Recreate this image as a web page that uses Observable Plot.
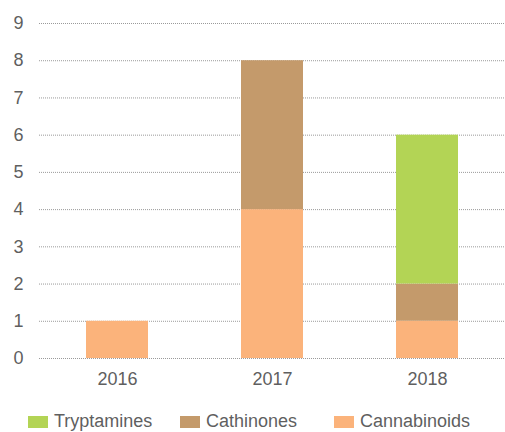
<!DOCTYPE html>
<html>
<head>
<meta charset="utf-8">
<script src="https://cdn.jsdelivr.net/npm/d3@7"></script>
<script src="https://cdn.jsdelivr.net/npm/@observablehq/plot@0.6"></script>
<style>
  body { margin: 0; background: #fff; font-family: "Liberation Sans", Arial, sans-serif; }
  #wrap { position: relative; width: 505px; height: 432px; overflow: hidden; }
  #legend { position: absolute; top: 412px; left: 0; width: 505px; height: 20px; }
  .item { position: absolute; top: 0; display: flex; align-items: center; font-size: 18px; color: #5f5f5f; line-height: 19px; }
  .sw { width: 20px; height: 12px; margin-right: 6px; }
</style>
</head>
<body>
<div id="wrap"><div id="chart"></div><div id="legend"></div></div>
<script>
const years = ["2016", "2017", "2018"];
const series = ["Cannabinoids", "Cathinones", "Tryptamines"];
const cannabinoids = [1, 4, 1];
const cathinones = [0, 4, 1];
const tryptamines = [0, 0, 4];
const colors = ["#fbb37b", "#c49a6b", "#b3d455"];
const yTicks = [0, 1, 2, 3, 4, 5, 6, 7, 8, 9];
const legendOrder = ["Tryptamines", "Cathinones", "Cannabinoids"];
const legendX = [28, 180, 334];

const values = [cannabinoids, cathinones, tryptamines];
const data = [];
series.forEach((s, si) => years.forEach((y, yi) => {
  data.push({year: y, series: s, value: values[si][yi]});
}));

const plot = Plot.plot({
  width: 505,
  height: 404,
  marginLeft: 39,
  marginRight: 0,
  marginTop: 23,
  marginBottom: 46,
  style: {fontFamily: "Liberation Sans, Arial, sans-serif", fontSize: "18px", color: "#5f5f5f", background: "#fff"},
  x: {domain: years, paddingInner: 0.6, paddingOuter: 0.3, label: null, tickSize: 0, tickPadding: 14},
  y: {domain: [0, 9], ticks: yTicks, label: null, tickSize: 0},
  color: {domain: series, range: colors},
  marks: [
    Plot.ruleY(yTicks, {stroke: "#9a9a9a", strokeDasharray: "1,1", strokeWidth: 1}),
    Plot.barY(data, {x: "year", y: "value", fill: "series", order: series}),
    Plot.axisY({ticks: yTicks, tickSize: 0, tickPadding: 16, label: null, fontSize: 18}),
    Plot.axisX({tickSize: 0, tickPadding: 14, label: null, fontSize: 18})
  ]
});
document.getElementById("chart").appendChild(plot);

const legend = document.getElementById("legend");
legendOrder.forEach((name, i) => {
  const it = document.createElement("div");
  it.className = "item";
  it.style.left = legendX[i] + "px";
  const sw = document.createElement("span");
  sw.className = "sw";
  sw.style.background = colors[series.indexOf(name)];
  const tx = document.createElement("span");
  tx.textContent = name;
  it.appendChild(sw);
  it.appendChild(tx);
  legend.appendChild(it);
});
</script>
</body>
</html>
